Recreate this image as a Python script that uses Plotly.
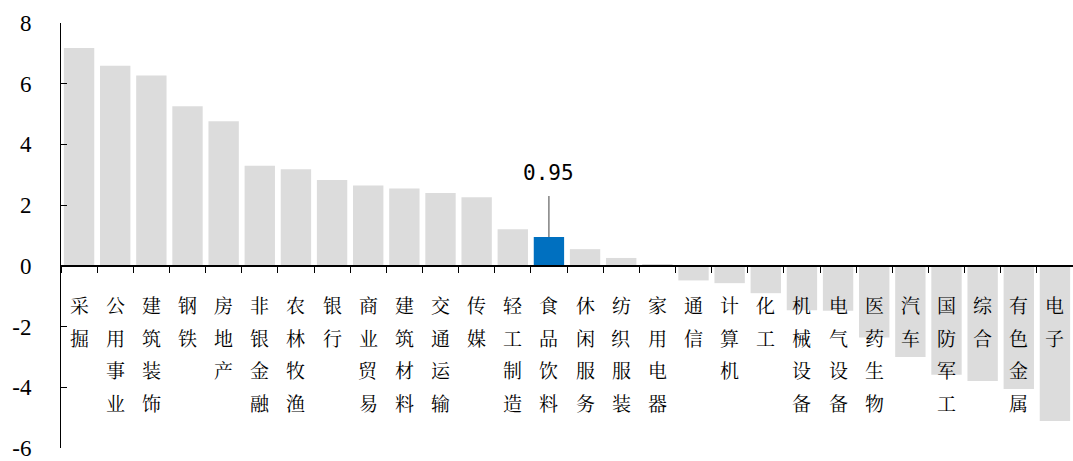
import plotly.graph_objects as go

categories = ["采掘", "公用事业", "建筑装饰", "钢铁", "房地产", "非银金融", "农林牧渔", "银行",
              "商业贸易", "建筑材料", "交通运输", "传媒", "轻工制造", "食品饮料", "休闲服务",
              "纺织服装", "家用电器", "通信", "计算机", "化工", "机械设备", "电气设备",
              "医药生物", "汽车", "国防军工", "综合", "有色金属", "电子"]
values = [7.18, 6.59, 6.27, 5.26, 4.76, 3.30, 3.18, 2.83, 2.65, 2.55, 2.40, 2.26, 1.21, 0.95,
          0.55, 0.26, 0.06, -0.48, -0.57, -0.90, -1.46, -1.48, -2.36, -3.00, -3.59, -3.79,
          -4.06, -5.11]
highlight = "食品饮料"
y_ticks = [-6, -4, -2, 0, 2, 4, 6, 8]

colors = ["#0070C0" if c == highlight else "#DCDCDC" for c in categories]

fig = go.Figure(go.Bar(x=categories, y=values, marker=dict(color=colors, line=dict(width=0))))

annotations = []
for c in categories:
    for j, ch in enumerate(c):
        annotations.append(dict(
            x=c, y=0, xref="x", yref="y", text=ch, showarrow=False,
            yanchor="middle", xanchor="center", yshift=-(39 + 32.5 * j),
            font=dict(family="Noto Serif CJK SC, Noto Sans CJK SC", size=19, color="#000000")))

hv = values[categories.index(highlight)]
annotations.append(dict(
    x=highlight, y=hv, xref="x", yref="y", text=f"{hv:.2f}", showarrow=True,
    arrowhead=0, arrowwidth=1, arrowcolor="#404040", ax=0, ay=-50, startstandoff=9,
    yanchor="bottom", font=dict(family="DejaVu Sans Mono", size=21, color="#000000")))

fig.update_layout(
    width=1073, height=461,
    margin=dict(l=61, r=0, t=23, b=10),
    paper_bgcolor="white", plot_bgcolor="white",
    font=dict(family="Times New Roman, Liberation Serif, serif"),
    showlegend=False, bargap=0.16,
    annotations=annotations,
    xaxis=dict(
        anchor="free", position=6 / 14, showline=True, linecolor="#000000", linewidth=1.5,
        ticks="outside", ticklen=6, tickcolor="#000000", tickson="boundaries",
        showticklabels=False, showgrid=False, zeroline=False),
    yaxis=dict(
        range=[-6, 8], tickvals=y_ticks, ticktext=[str(v) for v in y_ticks],
        showline=True, linecolor="#000000", linewidth=1,
        ticks="inside", ticklen=6, tickcolor="#000000",
        showgrid=False, zeroline=False, ticklabelstandoff=24, ticklabeloverflow="allow",
        tickfont=dict(family="Times New Roman, Liberation Serif, serif", size=23, color="#000000")),
)

fig.write_html("out.html")
